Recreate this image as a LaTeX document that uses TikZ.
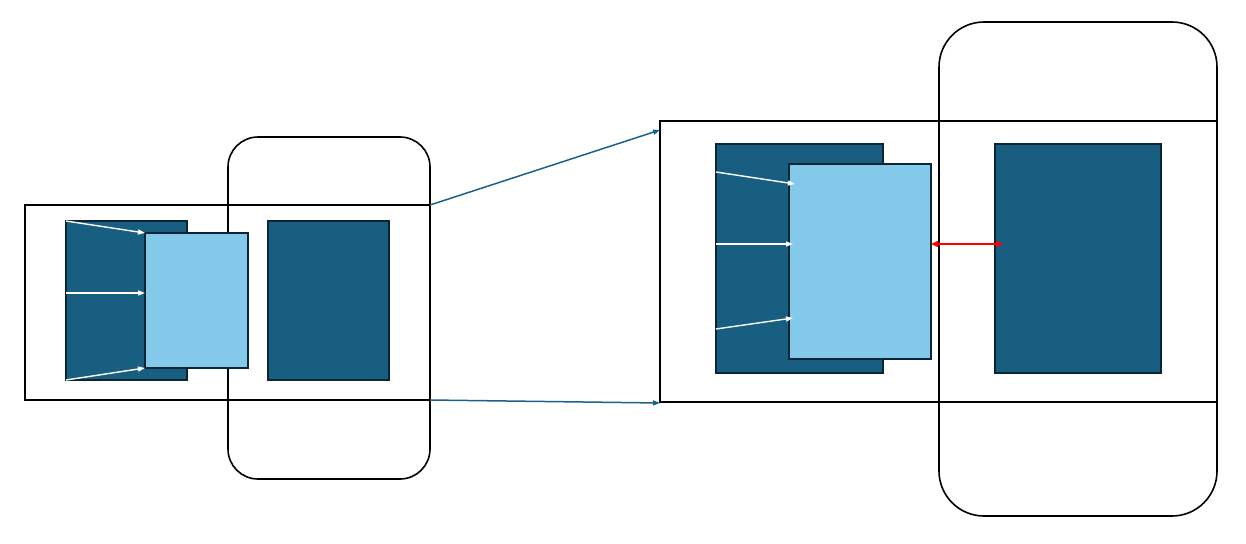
\documentclass[tikz,border=0pt]{standalone}
\usetikzlibrary{arrows.meta}
\definecolor{boxdark}{HTML}{175E81}
\definecolor{boxlight}{HTML}{83CAEA}
\definecolor{boxedge}{HTML}{0B2535}
\definecolor{linkblue}{HTML}{1B6189}
\tikzset{
  frame/.style={rectangle,draw=black,line width=1.6pt,inner sep=0pt,outer sep=0pt},
  roundframe/.style={frame,rounded corners=#1},
  darkbox/.style={rectangle,draw=boxedge,fill=boxdark,line width=1.5pt,inner sep=0pt,outer sep=0pt},
  lightbox/.style={darkbox,fill=boxlight},
  flow/.style={white,line width=1.4pt,-{Triangle[length=7pt,width=5pt]}},
  link/.style={linkblue,line width=1.5pt,-{Triangle[length=7pt,width=5pt]}},
  gap/.style={red,line width=1.5pt,{Triangle[length=7pt,width=6pt]}-{Triangle[length=7pt,width=6pt]}}
}
\begin{document}
\begin{tikzpicture}[x=1pt,y=-1pt]
\useasboundingbox (0,0) rectangle (1246,543);
% small unit
\node[frame,minimum width=405pt,minimum height=195pt] (lframe) at (227.5,302.5) {};
\node[roundframe=30pt,minimum width=202pt,minimum height=342pt] (lround) at (329,308) {};
\node[darkbox,minimum width=121pt,minimum height=159pt] (ldark) at (126.5,300.5) {};
\node[lightbox,minimum width=103pt,minimum height=135pt] (llight) at (196.5,300.5) {};
\node[darkbox,minimum width=121pt,minimum height=159pt] (lright) at (328.5,300.5) {};
\draw[flow] (ldark.north west) -- (llight.north west);
\draw[flow] (ldark.west |- 0,293) -- (llight.west |- 0,293);
\draw[flow] (ldark.south west) -- (llight.south west);
% large unit
\node[frame,minimum width=557pt,minimum height=281pt] (rframe) at (938.5,261.5) {};
\node[roundframe=45pt,minimum width=278pt,minimum height=494pt] (rround) at (1078,269) {};
\node[darkbox,minimum width=167pt,minimum height=229pt] (rdark) at (799.5,258.5) {};
\node[lightbox,minimum width=142pt,minimum height=195pt] (rlight) at (860,261.5) {};
\node[darkbox,minimum width=166pt,minimum height=229pt] (rright) at (1078,258.5) {};
\draw[flow] (rdark.west |- 0,172) -- ([xshift=6pt]rlight.west |- 0,184);
\draw[flow] (rdark.west |- 0,244) -- ([xshift=4pt]rlight.west |- 0,244);
\draw[flow] (rdark.west |- 0,329) -- ([xshift=4pt]rlight.west |- 0,318);
\draw[gap] (rlight.east |- 0,244) -- ([xshift=8pt]rright.west |- 0,244);
% zoom lines
\draw[link] (lframe.north east) -- ([yshift=-9pt]rframe.north west);
\draw[link] (lframe.south east) -- ([yshift=-1pt]rframe.south west);
\end{tikzpicture}
\end{document}
